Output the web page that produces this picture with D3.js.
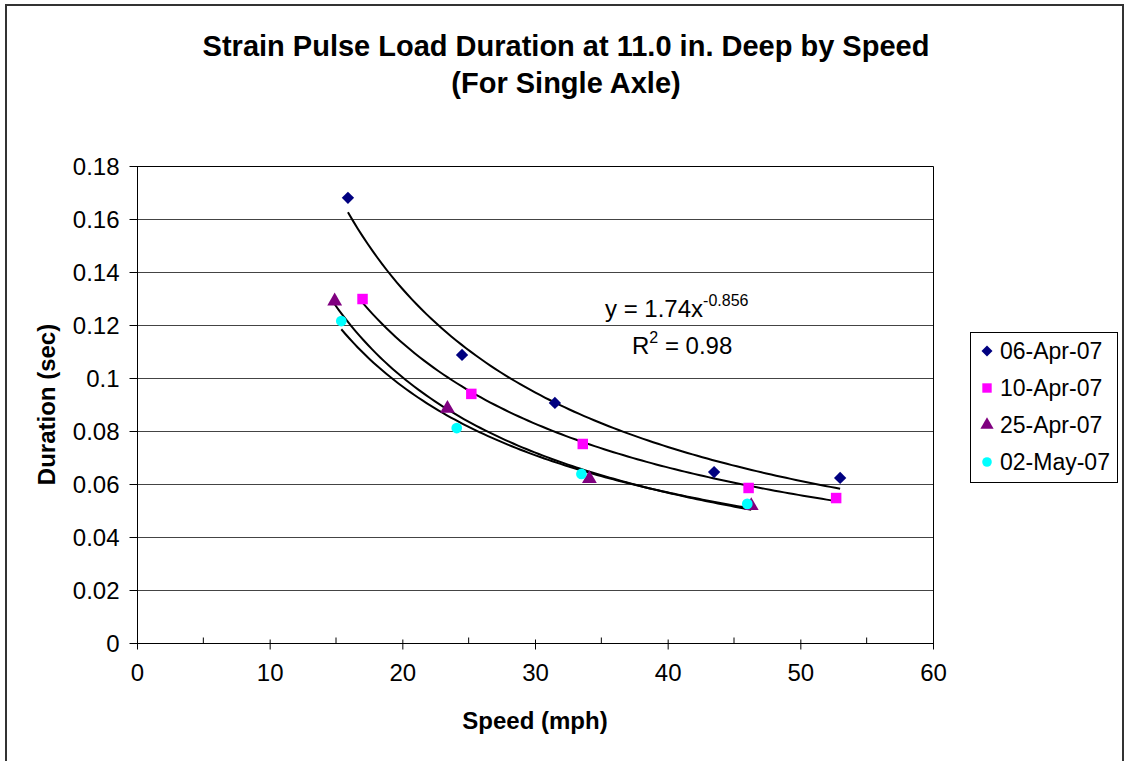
<!DOCTYPE html>
<html>
<head>
<meta charset="utf-8">
<script src="https://cdn.jsdelivr.net/npm/d3@7"></script>
<style>
  html, body { margin: 0; padding: 0; background: #fff; }
  svg text { font-family: "Liberation Sans", Arial, sans-serif; fill: #000; }
</style>
</head>
<body>
<div id="chart"></div>
<script>
// data
const seriesNames = ['06-Apr-07', '10-Apr-07', '25-Apr-07', '02-May-07'];
const speedApr06 = [15.9, 24.5, 31.5, 43.5, 53.0];
const durApr06 = [0.168, 0.1087, 0.0906, 0.0645, 0.0623];
const speedApr10 = [17.0, 25.2, 33.6, 46.1, 52.7];
const durApr10 = [0.1298, 0.0940, 0.0751, 0.0585, 0.0547];
const speedApr25 = [14.9, 23.4, 34.1, 46.3];
const durApr25 = [0.1290, 0.0885, 0.0620, 0.0518];
const speedMay02 = [15.4, 24.1, 33.5, 46.0];
const durMay02 = [0.1215, 0.0811, 0.0638, 0.0525];
const xTicks = [0, 10, 20, 30, 40, 50, 60];
const yTicks = [0, 0.02, 0.04, 0.06, 0.08, 0.1, 0.12, 0.14, 0.16, 0.18];
const yTickLabels = ['0', '0.02', '0.04', '0.06', '0.08', '0.1', '0.12', '0.14', '0.16', '0.18'];

const colors = ['#000080', '#ff00ff', '#800080', '#00ffff'];
// diamond = square turned 45deg
const shapes = [d3.symbolSquare, d3.symbolSquare, d3.symbolTriangle, d3.symbolCircle];
const rotations = [45, 0, 0, 0];
const symSizes = [76, 110, 95, 90];

const series = [
  {xs: speedApr06, ys: durApr06},
  {xs: speedApr10, ys: durApr10},
  {xs: speedApr25, ys: durApr25},
  {xs: speedMay02, ys: durMay02}
].map((s, i) => ({
  name: seriesNames[i],
  color: colors[i],
  shape: shapes[i],
  rot: rotations[i],
  size: symSizes[i],
  points: s.xs.map((x, j) => ({x: x, y: s.ys[j]}))
}));

const width = 1125;
const height = 761;
const plot = {left: 137, right: 933, top: 166, bottom: 643};

const svg = d3.select('#chart').append('svg')
  .attr('width', width)
  .attr('height', height);

svg.append('rect')
  .attr('x', 0).attr('y', 0)
  .attr('width', width).attr('height', height)
  .attr('fill', '#fff');

// outer chart frame
svg.append('rect')
  .attr('x', 6).attr('y', 5)
  .attr('width', 1117).attr('height', 800)
  .attr('fill', 'none')
  .attr('stroke', '#333')
  .attr('stroke-width', 2);

const x = d3.scaleLinear().domain([0, 60]).range([plot.left, plot.right]);
const y = d3.scaleLinear().domain([0, 0.18]).range([plot.bottom, plot.top]);

// gridlines
svg.append('g')
  .selectAll('line')
  .data(yTicks.slice(1))
  .join('line')
  .attr('x1', plot.left).attr('x2', plot.right)
  .attr('y1', d => Math.round(y(d)) + 0.5)
  .attr('y2', d => Math.round(y(d)) + 0.5)
  .attr('stroke', '#444')
  .attr('stroke-width', 1);

// plot frame top + right
svg.append('path')
  .attr('d', `M${plot.left},${plot.top + 0.5}H${plot.right + 0.5}V${plot.bottom}`)
  .attr('fill', 'none')
  .attr('stroke', '#000')
  .attr('stroke-width', 1);

// y axis
const yAxis = d3.axisLeft(y)
  .tickValues(yTicks)
  .tickFormat((d, i) => yTickLabels[i])
  .tickSize(8)
  .tickPadding(10);
const gy = svg.append('g')
  .attr('transform', `translate(${plot.left + 0.5},0)`)
  .call(yAxis);
gy.selectAll('text')
  .style('font-size', '24px')
  .attr('dy', '0.34em');

// x axis
const xAxis = d3.axisBottom(x)
  .tickValues(xTicks)
  .tickSize(6)
  .tickPadding(14);
const gx = svg.append('g')
  .attr('transform', `translate(0,${plot.bottom + 0.5})`)
  .call(xAxis);
gx.selectAll('.tick line').attr('y1', -4);
gx.selectAll('text').style('font-size', '24px');
// minor ticks at the 5s
gx.append('g')
  .selectAll('line')
  .data(d3.range(5, 60, 10))
  .join('line')
  .attr('x1', d => x(d)).attr('x2', d => x(d))
  .attr('y1', 0).attr('y2', -6)
  .attr('stroke', '#000');
svg.selectAll('.domain').attr('stroke', '#000');
gx.select('.domain').attr('d', `M${plot.left},0H${plot.right}`);
gy.select('.domain').attr('d', `M0,${plot.top}V${plot.bottom}`);

// power trendlines, least squares in log space
function powerFit(pts) {
  const lx = pts.map(p => Math.log(p.x));
  const ly = pts.map(p => Math.log(p.y));
  const mx = d3.mean(lx), my = d3.mean(ly);
  const b = d3.sum(lx.map((v, i) => (v - mx) * (ly[i] - my))) / d3.sum(lx.map(v => (v - mx) * (v - mx)));
  const a = Math.exp(my - b * mx);
  return {a, b};
}
const line = d3.line().x(d => x(d[0])).y(d => y(d[1]));
series.forEach(s => {
  const fit = powerFit(s.points);
  const [x0, x1] = d3.extent(s.points, p => p.x);
  const samples = d3.range(0, 101).map(k => {
    const xv = x0 + (x1 - x0) * k / 100;
    return [xv, fit.a * Math.pow(xv, fit.b)];
  });
  svg.append('path')
    .datum(samples)
    .attr('d', line)
    .attr('fill', 'none')
    .attr('stroke', '#000')
    .attr('stroke-width', 2);
});

// markers
series.forEach(s => {
  svg.append('g')
    .selectAll('path')
    .data(s.points)
    .join('path')
    .attr('transform', d => `translate(${x(d.x)},${y(d.y)}) rotate(${s.rot})`)
    .attr('d', d3.symbol().type(s.shape).size(s.size))
    .attr('fill', s.color);
});

// trendline equation
const eq = svg.append('text')
  .attr('x', 605).attr('y', 317)
  .style('font-size', '24px');
eq.append('tspan').text('y = 1.74x');
eq.append('tspan').attr('dy', -11).style('font-size', '16px').text('-0.856');
const r2 = svg.append('text')
  .attr('x', 632).attr('y', 354)
  .style('font-size', '24px');
r2.append('tspan').text('R');
r2.append('tspan').attr('dy', -11).style('font-size', '16px').text('2');
r2.append('tspan').attr('dy', 11).text(' = 0.98');

// titles
const title = svg.append('text')
  .attr('text-anchor', 'middle')
  .style('font-size', '29px')
  .style('font-weight', 'bold');
title.append('tspan').attr('x', 566).attr('y', 56)
  .text('Strain Pulse Load Duration at 11.0 in. Deep by Speed');
title.append('tspan').attr('x', 566).attr('y', 93)
  .text('(For Single Axle)');

svg.append('text')
  .attr('x', (plot.left + plot.right) / 2)
  .attr('y', 729)
  .attr('text-anchor', 'middle')
  .style('font-size', '24px')
  .style('font-weight', 'bold')
  .text('Speed (mph)');

svg.append('text')
  .attr('transform', `translate(55,${(plot.top + plot.bottom) / 2}) rotate(-90)`)
  .attr('text-anchor', 'middle')
  .style('font-size', '24px')
  .style('font-weight', 'bold')
  .text('Duration (sec)');

// legend
const legend = svg.append('g');
legend.append('rect')
  .attr('x', 970.5).attr('y', 332.5)
  .attr('width', 147).attr('height', 150)
  .attr('fill', '#fff')
  .attr('stroke', '#000')
  .attr('stroke-width', 1);
const item = legend.selectAll('g.item')
  .data(series)
  .join('g')
  .attr('class', 'item')
  .attr('transform', (d, i) => `translate(987,${351 + i * 37})`);
item.append('path')
  .attr('transform', d => `rotate(${d.rot})`)
  .attr('d', d => d3.symbol().type(d.shape).size(d.size * 0.8)())
  .attr('fill', d => d.color);
item.append('text')
  .attr('x', 13)
  .attr('dy', '0.35em')
  .style('font-size', '23px')
  .text(d => d.name);
</script>
</body>
</html>
